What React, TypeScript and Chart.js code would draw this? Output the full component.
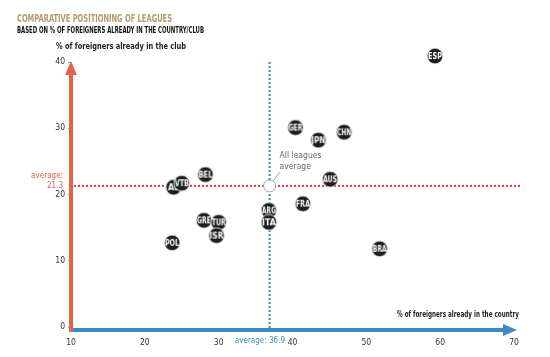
import React, { useEffect, useRef } from "react";
import { Chart, registerables } from "chart.js";
Chart.register(...registerables);

const leagues = ["ESP", "GER", "JPN", "CHN", "AUS", "FRA", "BRA", "BEL", "AL", "VTB", "POL", "GRE", "TUR", "ISR", "ARG", "ITA"];
const countryPct = [59.3, 40.4, 43.5, 47.0, 45.1, 41.4, 51.8, 28.2, 23.9, 25.0, 23.7, 28.0, 30.0, 29.7, 36.8, 36.8];
const clubPct = [40.9, 30.1, 28.2, 29.4, 22.3, 18.6, 11.8, 23.0, 21.1, 21.7, 12.7, 16.1, 15.8, 13.8, 17.6, 15.8];
const xTicks = [10, 20, 30, 40, 50, 60, 70];
const yTicks = [0, 10, 20, 30, 40];
const avgCountry = 36.9;
const avgClub = 21.3;

const titleText = "COMPARATIVE POSITIONING OF LEAGUES";
const subtitleText = "BASED ON % OF FOREIGNERS ALREADY IN THE COUNTRY/CLUB";
const yAxisTitle = "% of foreigners already in the club";
const xAxisTitle = "% of foreigners already in the country";

const NARROW = '"Liberation Sans Narrow", "DejaVu Sans Condensed", "Arial Narrow", sans-serif';
const RED = "#e4624a";
const BLUE = "#3a8ac6";

function makeBadge(label: string): HTMLCanvasElement {
  const c = document.createElement("canvas");
  c.width = 18;
  c.height = 18;
  const g = c.getContext("2d")!;
  g.beginPath();
  g.arc(9, 9, 7.9, 0, Math.PI * 2);
  g.fillStyle = "#1e1e1e";
  g.fill();
  g.lineWidth = 0.8;
  g.strokeStyle = "#ffffff";
  g.stroke();
  g.fillStyle = "#ffffff";
  g.font = `bold 9px ${NARROW}`;
  g.textAlign = "center";
  g.textBaseline = "middle";
  g.fillText(label, 9, 9.5, 14);
  return c;
}

const decorPlugin = {
  id: "decor",
  beforeDatasetsDraw(chart: any) {
    const { ctx, chartArea, scales } = chart;
    const xs = scales.x;
    const ys = scales.y;
    const left = chartArea.left;
    const base = ys.getPixelForValue(0) + 3;
    ctx.save();
    ctx.setLineDash([2, 2]);
    ctx.lineWidth = 2;
    ctx.strokeStyle = "#e2392f";
    const ay = ys.getPixelForValue(avgClub);
    ctx.beginPath();
    ctx.moveTo(left + 3, ay);
    ctx.lineTo(521, ay);
    ctx.stroke();
    ctx.strokeStyle = BLUE;
    const ax = xs.getPixelForValue(avgCountry);
    ctx.beginPath();
    ctx.moveTo(ax, chartArea.top);
    ctx.lineTo(ax, base);
    ctx.stroke();
    ctx.setLineDash([]);
    ctx.strokeStyle = BLUE;
    ctx.fillStyle = BLUE;
    ctx.lineWidth = 4;
    ctx.beginPath();
    ctx.moveTo(left - 1, base);
    ctx.lineTo(chartArea.right - 8, base);
    ctx.stroke();
    ctx.beginPath();
    ctx.moveTo(chartArea.right + 3, base);
    ctx.lineTo(chartArea.right - 11, base - 6);
    ctx.lineTo(chartArea.right - 11, base + 6);
    ctx.closePath();
    ctx.fill();
    ctx.strokeStyle = RED;
    ctx.fillStyle = RED;
    ctx.beginPath();
    ctx.moveTo(left, base + 2);
    ctx.lineTo(left, chartArea.top + 12);
    ctx.stroke();
    ctx.beginPath();
    ctx.moveTo(left, chartArea.top - 1);
    ctx.lineTo(left - 6, chartArea.top + 13);
    ctx.lineTo(left + 6, chartArea.top + 13);
    ctx.closePath();
    ctx.fill();
    ctx.restore();
  },
  afterDraw(chart: any) {
    const { ctx, scales } = chart;
    const xs = scales.x;
    const ys = scales.y;
    ctx.save();
    ctx.textBaseline = "middle";
    ctx.textAlign = "left";
    ctx.fillStyle = "#b49a6a";
    ctx.font = `bold 10px ${NARROW}`;
    ctx.fillText(titleText, 17, 19, 155);
    ctx.fillStyle = "#111111";
    ctx.font = `bold 8px ${NARROW}`;
    ctx.fillText(subtitleText, 17, 31, 187);
    ctx.fillStyle = "#222222";
    ctx.font = `bold 9.5px ${NARROW}`;
    ctx.fillText(yAxisTitle, 56, 47, 130);
    ctx.textAlign = "right";
    ctx.fillText(xAxisTitle, 519, 315, 122);
    ctx.font = `8px ${NARROW}`;
    ctx.fillStyle = RED;
    ctx.fillText("average:", 63, 176);
    ctx.fillText(String(avgClub), 63, 186);
    ctx.fillStyle = BLUE;
    ctx.fillText("average: " + avgCountry, 285, 341);
    const ax = xs.getPixelForValue(avgCountry);
    const ay = ys.getPixelForValue(avgClub);
    ctx.strokeStyle = "#888888";
    ctx.lineWidth = 0.8;
    ctx.beginPath();
    ctx.moveTo(ax + 4, ay - 5);
    ctx.lineTo(ax + 10, ay - 14);
    ctx.stroke();
    ctx.textAlign = "left";
    ctx.fillStyle = "#666666";
    ctx.font = `8.5px ${NARROW}`;
    ctx.fillText("All leagues", ax + 10, ay - 30);
    ctx.fillText("average", ax + 10, ay - 19);
    ctx.restore();
  },
};

export default function App() {
  const ref = useRef<HTMLCanvasElement | null>(null);
  useEffect(() => {
    if (!ref.current) return;
    const badges = leagues.map(makeBadge);
    const chart = new Chart(ref.current, {
      type: "scatter",
      data: {
        datasets: [
          {
            label: "Leagues",
            data: countryPct.map((x, i) => ({ x, y: clubPct[i] })),
            pointStyle: badges as any,
            pointRadius: 8,
            clip: false as any,
          },
          {
            label: "All leagues average",
            data: [{ x: avgCountry, y: avgClub }],
            pointRadius: 6,
            pointBackgroundColor: "#ffffff",
            pointBorderColor: "#a0a0a0",
            pointBorderWidth: 1,
            clip: false as any,
          },
        ],
      },
      options: {
        responsive: false,
        animation: false,
        events: [],
        layout: { padding: { top: 62, right: 36, left: 0, bottom: 0 } },
        plugins: { legend: { display: false }, tooltip: { enabled: false }, title: { display: false } },
        scales: {
          x: {
            type: "linear",
            min: xTicks[0],
            max: xTicks[xTicks.length - 1],
            afterBuildTicks: (s: any) => { s.ticks = xTicks.map((v) => ({ value: v })); },
            afterFit: (s: any) => { s.height = 30; },
            grid: { display: false },
            border: { display: false },
            ticks: { color: "#333", font: { family: NARROW, size: 8.5 }, padding: 3, maxRotation: 0 },
          },
          y: {
            type: "linear",
            min: yTicks[0],
            max: yTicks[yTicks.length - 1],
            afterBuildTicks: (s: any) => { s.ticks = yTicks.map((v) => ({ value: v })); },
            afterFit: (s: any) => { s.width = 71; },
            grid: { display: true, drawOnChartArea: false, tickLength: 3, color: "#999" },
            border: { display: false },
            ticks: { color: "#333", font: { family: NARROW, size: 8.5 }, padding: 3 },
          },
        },
      } as any,
      plugins: [decorPlugin],
    });
    return () => chart.destroy();
  }, []);
  return (
    <div style={{ position: "fixed", left: 0, top: 0, width: 550, height: 357, background: "#fff" }}>
      <canvas ref={ref} width={550} height={357} style={{ display: "block" }} />
    </div>
  );
}
